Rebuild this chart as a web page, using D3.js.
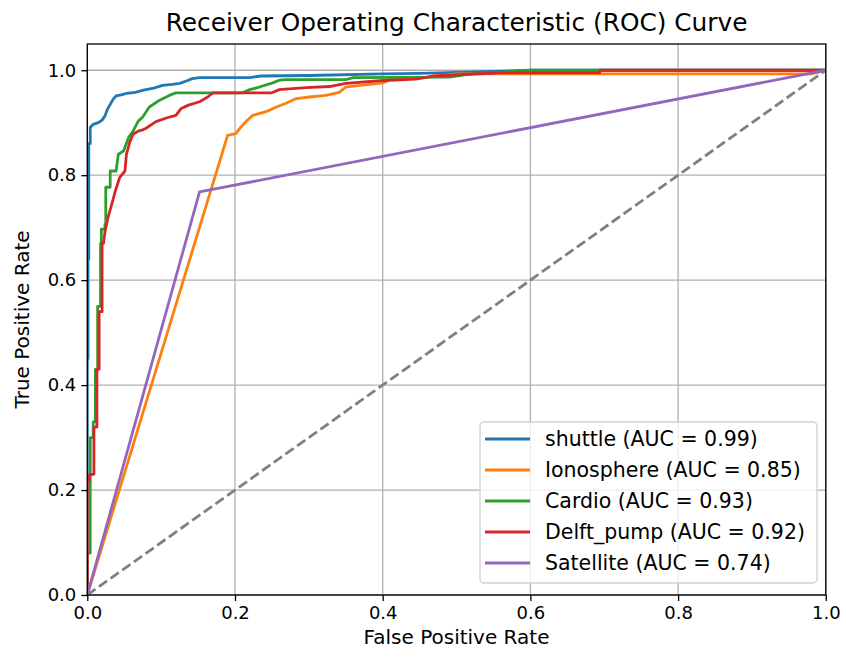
<!DOCTYPE html>
<html>
<head>
<meta charset="utf-8">
<script src="https://cdn.jsdelivr.net/npm/d3@7"></script>
<style>
  html, body { margin: 0; padding: 0; background: #fff; }
  svg text { font-family: "DejaVu Sans", sans-serif; fill: #000; }
</style>
</head>
<body>
<svg id="chart" width="846" height="657"></svg>
<script>
// ROC curve vertices [false positive rate, true positive rate] per dataset
const shuttleFpr = [0, 0, 0.001, 0.001, 0.002, 0.002, 0.004, 0.004, 0.008, 0.015, 0.020, 0.024, 0.027, 0.031, 0.035, 0.039, 0.046, 0.053, 0.065, 0.076, 0.090, 0.102, 0.115, 0.125, 0.135, 0.142, 0.152, 0.220, 0.235, 0.300, 0.400, 0.450, 0.550, 0.600, 1];
const shuttleTpr = [0, 0.45, 0.45, 0.64, 0.64, 0.86, 0.86, 0.891, 0.897, 0.900, 0.905, 0.913, 0.925, 0.935, 0.945, 0.951, 0.953, 0.956, 0.958, 0.962, 0.966, 0.971, 0.973, 0.975, 0.980, 0.984, 0.986, 0.986, 0.989, 0.990, 0.993, 0.994, 0.998, 1, 1];

const ionoFpr = [0, 0.190, 0.201, 0.208, 0.217, 0.224, 0.242, 0.256, 0.269, 0.283, 0.301, 0.323, 0.341, 0.350, 0.369, 0.396, 0.405, 0.409, 0.460, 0.500, 0.980, 1];
const ionoTpr = [0, 0.876, 0.879, 0.892, 0.905, 0.914, 0.921, 0.930, 0.937, 0.946, 0.949, 0.952, 0.958, 0.968, 0.971, 0.975, 0.978, 0.984, 0.987, 0.993, 0.993, 1];

const cardioFpr = [0, 0, 0.004, 0.004, 0.008, 0.008, 0.011, 0.011, 0.014, 0.014, 0.018, 0.018, 0.019, 0.019, 0.024, 0.024, 0.025, 0.025, 0.031, 0.031, 0.039, 0.042, 0.049, 0.056, 0.062, 0.069, 0.075, 0.084, 0.098, 0.111, 0.120, 0.210, 0.220, 0.233, 0.251, 0.260, 0.270, 0.350, 0.360, 0.490, 0.520, 0.580, 0.600, 1];
const cardioTpr = [0, 0.08, 0.08, 0.30, 0.30, 0.33, 0.33, 0.43, 0.43, 0.55, 0.55, 0.67, 0.67, 0.697, 0.697, 0.706, 0.706, 0.777, 0.777, 0.808, 0.808, 0.840, 0.846, 0.872, 0.884, 0.903, 0.911, 0.930, 0.943, 0.952, 0.957, 0.957, 0.963, 0.968, 0.976, 0.981, 0.982, 0.982, 0.986, 0.987, 0.993, 0.998, 1, 1];

const delftFpr = [0, 0, 0.003, 0.003, 0.009, 0.009, 0.013, 0.013, 0.016, 0.016, 0.020, 0.020, 0.022, 0.024, 0.028, 0.033, 0.038, 0.044, 0.051, 0.053, 0.058, 0.062, 0.069, 0.076, 0.079, 0.093, 0.107, 0.120, 0.127, 0.138, 0.152, 0.163, 0.170, 0.250, 0.260, 0.296, 0.328, 0.350, 0.396, 0.445, 0.468, 0.558, 0.694, 0.694, 1];
const delftTpr = [0, 0.22, 0.22, 0.23, 0.23, 0.32, 0.32, 0.43, 0.43, 0.54, 0.54, 0.67, 0.67, 0.693, 0.719, 0.744, 0.770, 0.796, 0.808, 0.840, 0.865, 0.878, 0.884, 0.887, 0.889, 0.902, 0.909, 0.914, 0.927, 0.934, 0.940, 0.949, 0.957, 0.957, 0.963, 0.967, 0.969, 0.975, 0.980, 0.983, 0.989, 0.995, 0.995, 1, 1];

const satFpr = [0, 0.152, 1];
const satTpr = [0, 0.768, 1];

const seriesNames = ["shuttle", "Ionosphere", "Cardio", "Delft_pump", "Satellite"];
const aucValues = [0.99, 0.85, 0.93, 0.92, 0.74];
const seriesColors = ["#1f77b4", "#ff7f0e", "#2ca02c", "#d62728", "#9467bd"];
const tickValues = [0, 0.2, 0.4, 0.6, 0.8, 1.0];

const fprs = [shuttleFpr, ionoFpr, cardioFpr, delftFpr, satFpr];
const tprs = [shuttleTpr, ionoTpr, cardioTpr, delftTpr, satTpr];
const series = seriesNames.map((name, i) => ({
  name, auc: aucValues[i], color: seriesColors[i],
  points: fprs[i].map((f, j) => [f, tprs[i][j]])
}));

const svg = d3.select("#chart");
const plotLeft = 87.3, plotRight = 825.8, plotTop = 44, plotBottom = 595;

const x = d3.scaleLinear().domain([0, 1]).range([plotLeft, plotRight]);
const y = d3.scaleLinear().domain([0, 1.05]).range([plotBottom, plotTop]);

// grid
const grid = svg.append("g");
grid.selectAll("line.gx").data(tickValues).join("line")
  .attr("class", "gx")
  .attr("x1", d => x(d)).attr("x2", d => x(d))
  .attr("y1", plotTop).attr("y2", plotBottom)
  .attr("stroke", "#b0b0b0").attr("stroke-width", 1.3);
grid.selectAll("line.gy").data(tickValues).join("line")
  .attr("class", "gy")
  .attr("x1", plotLeft).attr("x2", plotRight)
  .attr("y1", d => y(d)).attr("y2", d => y(d))
  .attr("stroke", "#b0b0b0").attr("stroke-width", 1.3);

// curves
svg.append("clipPath").attr("id", "plotclip")
  .append("rect").attr("x", plotLeft).attr("y", plotTop)
  .attr("width", plotRight - plotLeft).attr("height", plotBottom - plotTop);
const plot = svg.append("g").attr("clip-path", "url(#plotclip)");
const line = d3.line().x(d => x(d[0])).y(d => y(d[1]));

series.forEach(s => {
  plot.append("path").attr("d", line(s.points))
    .attr("fill", "none").attr("stroke", s.color)
    .attr("stroke-width", 2.8).attr("stroke-linejoin", "round").attr("stroke-linecap", "square");
});

// chance diagonal
plot.append("path").attr("d", line([[0, 0], [1, 1]]))
  .attr("fill", "none").attr("stroke", "#808080")
  .attr("stroke-width", 2.8).attr("stroke-dasharray", "10,4.3");

// axes
const xAxis = d3.axisBottom(x).tickValues(tickValues).tickFormat(d3.format(".1f")).tickSize(6).tickPadding(5);
const yAxis = d3.axisLeft(y).tickValues(tickValues).tickFormat(d3.format(".1f")).tickSize(6).tickPadding(5);

const gx = svg.append("g").attr("transform", `translate(0,${plotBottom})`).call(xAxis);
const gy = svg.append("g").attr("transform", `translate(${plotLeft},0)`).call(yAxis);
[gx, gy].forEach(g => {
  g.select(".domain").remove();
  g.selectAll(".tick line").attr("stroke", "#000").attr("stroke-width", 1.3);
  g.selectAll(".tick text").attr("font-size", 18).attr("font-family", "DejaVu Sans").attr("fill", "#000");
});

// frame
svg.append("rect").attr("x", plotLeft).attr("y", plotTop)
  .attr("width", plotRight - plotLeft).attr("height", plotBottom - plotTop)
  .attr("fill", "none").attr("stroke", "#000").attr("stroke-width", 1.3);

// titles
svg.append("text").attr("x", (plotLeft + plotRight) / 2).attr("y", 31)
  .attr("text-anchor", "middle").attr("font-size", 24.8)
  .text("Receiver Operating Characteristic (ROC) Curve");
svg.append("text").attr("x", (plotLeft + plotRight) / 2).attr("y", 644)
  .attr("text-anchor", "middle").attr("font-size", 20)
  .text("False Positive Rate");
svg.append("text").attr("transform", `translate(29,${(plotTop + plotBottom) / 2}) rotate(-90)`)
  .attr("text-anchor", "middle").attr("font-size", 20)
  .text("True Positive Rate");

// legend
const lg = svg.append("g").attr("transform", "translate(480,422)");
lg.append("rect").attr("x", 0).attr("y", 0).attr("width", 337).attr("height", 161)
  .attr("rx", 4).attr("fill", "#fff").attr("fill-opacity", 0.8)
  .attr("stroke", "#d0d0d0").attr("stroke-width", 1.3);
series.forEach((s, i) => {
  const cy = 17 + i * 31;
  lg.append("line").attr("x1", 5).attr("x2", 50).attr("y1", cy).attr("y2", cy)
    .attr("stroke", s.color).attr("stroke-width", 2.8);
  lg.append("text").attr("x", 65).attr("y", cy).attr("dy", "0.36em")
    .attr("font-size", 20.5)
    .text(`${s.name} (AUC = ${s.auc.toFixed(2)})`);
});
</script>
</body>
</html>
